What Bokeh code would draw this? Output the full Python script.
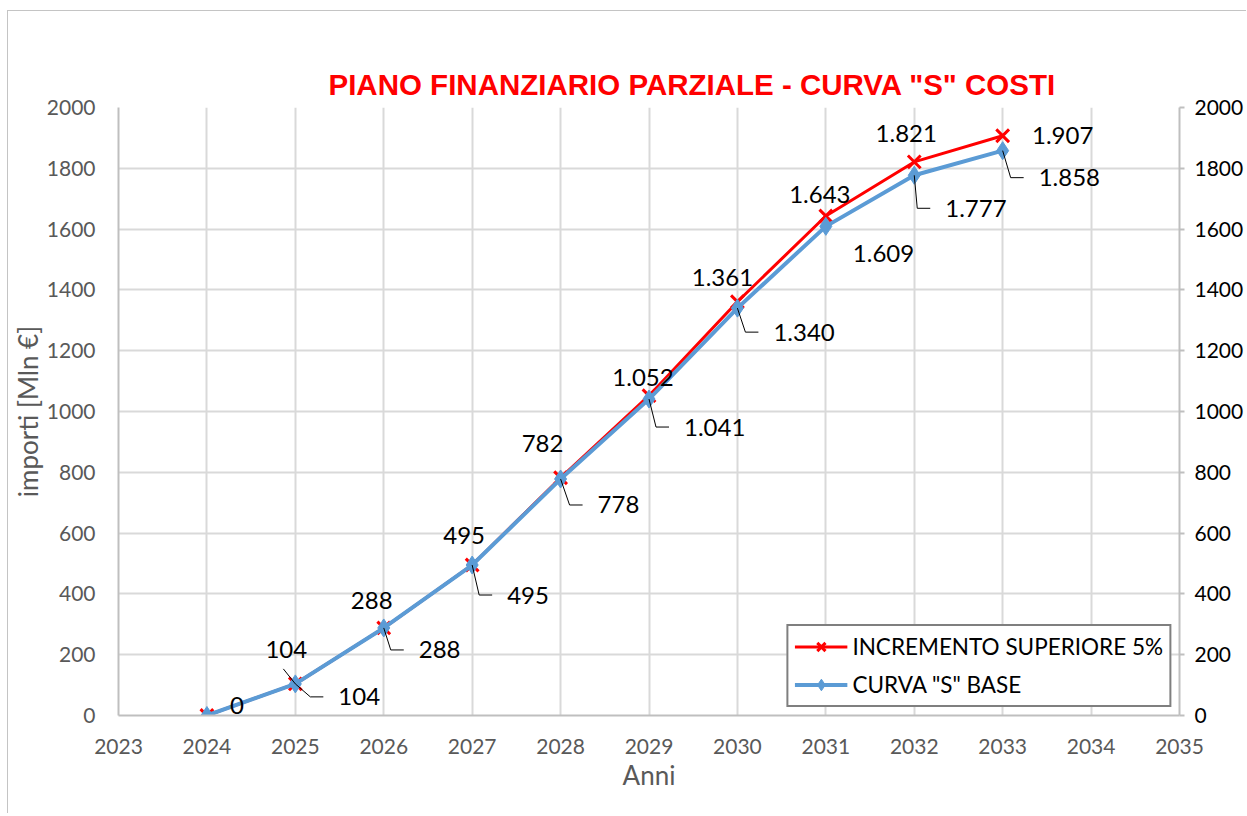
from bokeh.plotting import figure
from bokeh.models import (LinearAxis, Range1d, Legend, LegendItem, FixedTicker,
                          LabelSet, ColumnDataSource)
from bokeh.embed import file_html
from bokeh.resources import INLINE
from bokeh.core.properties import value

# ---------------- data ----------------
years = [2024, 2025, 2026, 2027, 2028, 2029, 2030, 2031, 2032, 2033]
incremento = [0, 104, 288, 495, 782, 1052, 1361, 1643, 1821, 1907]
base = [0, 104, 288, 495, 778, 1041, 1340, 1609, 1777, 1858]
x_ticks = list(range(2023, 2036))
y_ticks = list(range(0, 2001, 200))
title_text = 'PIANO FINANZIARIO PARZIALE - CURVA "S" COSTI'
series_names = ['INCREMENTO SUPERIORE 5%', 'CURVA "S" BASE']
x_title = "Anni"
y_title = "importi [Mln €]"

# ---------------- label layout (pixel offsets from the point) ----------------
red_off = [(30, -10), (-9, -34), (-12, -27), (-8, -30), (-18, -34), (-6, -18),
           (-15, -24), (-6, -22), (-8, -28), (60, 0)]
blue_off = [None, (43, 13), (35, 22), (35, 30), (37, 26), (35, 28),
            (36, 24), (27, 27), (31, 33), (36, 27)]
blue_leader = [False, True, True, True, True, True, True, False, True, True]

FONT = "Lato"
GRAY = "#595959"
RED = "#FF0000"
BLUE = "#5B9BD5"

W, H = 1239, 803
ML, MR, MT = 110, 68, 96
frame_w = W - ML - MR
frame_h = 608
MB = H - MT - frame_h

X0, X1 = 2023, 2035
Y0, Y1 = 0, 2000
px_x = (X1 - X0) / frame_w
px_y = (Y1 - Y0) / frame_h


def fmt(v):
    return f"{v:,}".replace(",", ".")


p = figure(width=W, height=H, x_range=Range1d(X0, X1), y_range=Range1d(Y0, Y1),
           output_backend="svg", toolbar_location=None,
           min_border_left=ML, min_border_right=MR, min_border_top=MT, min_border_bottom=MB)
p.styles = {"margin-left": "7px", "margin-top": "10px",
            "border-left": "1px solid #c4c4c4", "border-top": "1px solid #c4c4c4"}
p.outline_line_color = None
p.background_fill_color = "white"
p.border_fill_color = "white"

# title
p.title.text = title_text
p.title.align = "left"
p.title.offset = 210
p.title.standoff = 14
p.title.text_font = "Liberation Sans"
p.title.text_font_style = "bold"
p.title.text_font_size = "29.5px"
p.title.text_color = RED

# axes
xa = p.xaxis[0]
xa.ticker = FixedTicker(ticks=x_ticks)
xa.axis_line_color = "#bfbfbf"
xa.axis_line_width = 2
xa.major_tick_out = 0
xa.major_tick_in = 0
xa.major_tick_line_color = None
xa.minor_tick_line_color = None
xa.major_label_text_font = FONT
xa.major_label_text_font_size = "21px"
xa.major_label_text_color = GRAY
xa.major_label_standoff = 23
xa.axis_label = x_title
xa.axis_label_text_font = FONT
xa.axis_label_text_font_size = "26px"
xa.axis_label_text_font_style = "normal"
xa.axis_label_text_color = GRAY
xa.axis_label_standoff = 2

ya = p.yaxis[0]
ya.ticker = FixedTicker(ticks=y_ticks)
ya.axis_line_color = "#bfbfbf"
ya.axis_line_width = 2
ya.major_tick_out = 0
ya.major_tick_in = 0
ya.major_tick_line_color = None
ya.minor_tick_line_color = None
ya.major_label_text_font = FONT
ya.major_label_text_font_size = "21px"
ya.major_label_text_color = GRAY
ya.major_label_standoff = 23
ya.axis_label = y_title
ya.axis_label_text_font = FONT
ya.axis_label_text_font_size = "26px"
ya.axis_label_text_font_style = "normal"
ya.axis_label_text_color = GRAY
ya.axis_label_standoff = 0

p.extra_y_ranges = {"right": Range1d(Y0, Y1)}
ra = LinearAxis(y_range_name="right", ticker=FixedTicker(ticks=y_ticks))
ra.axis_line_color = "#bfbfbf"
ra.axis_line_width = 2
ra.major_tick_line_color = "#bfbfbf"
ra.major_tick_line_width = 2
ra.major_tick_out = 5
ra.major_tick_in = 0
ra.minor_tick_line_color = None
ra.major_label_text_font = FONT
ra.major_label_text_font_size = "21px"
ra.major_label_text_color = "black"
ra.major_label_standoff = 10
p.add_layout(ra, "right")

for g in (p.xgrid[0], p.ygrid[0]):
    g.grid_line_color = "#d9d9d9"
    g.grid_line_width = 2
p.xgrid[0].ticker = FixedTicker(ticks=x_ticks)
p.ygrid[0].ticker = FixedTicker(ticks=y_ticks)

# series
r_line = p.line(years, incremento, line_color=RED, line_width=3)
r_mark = p.scatter(years, incremento, marker="x", size=18, line_color=RED, line_width=3)
b_line = p.line(years, base, line_color=BLUE, line_width=4)
b_mark = p.scatter(years, base, marker="diamond", size=18, fill_color=BLUE, line_color=BLUE)

# leader lines
lx, ly = [], []
for i, (xv, yv) in enumerate(zip(years, base)):
    if blue_off[i] is not None and blue_leader[i]:
        dx, dy = blue_off[i]
        lx.append([xv, xv + (dx - 28) * px_x, xv + (dx - 15) * px_x])
        ly.append([yv, yv - dy * px_y, yv - dy * px_y])
lx.append([years[1] - 12 * px_x, years[1]])
ly.append([incremento[1] + 15 * px_y, incremento[1]])
p.multi_line(lx, ly, line_color="black", line_width=1)

# data labels
red_src = ColumnDataSource(dict(
    x=[xv + red_off[i][0] * px_x for i, xv in enumerate(years)],
    y=[yv - red_off[i][1] * px_y for i, yv in enumerate(incremento)],
    t=[fmt(v) for v in incremento]))
p.add_layout(LabelSet(x="x", y="y", text="t", source=red_src, text_align="center",
                      text_baseline="middle", text_font=value(FONT), text_font_size="24px",
                      text_color="black"))

bx, by, bt = [], [], []
for i, (xv, yv) in enumerate(zip(years, base)):
    if blue_off[i] is None:
        continue
    dx, dy = blue_off[i]
    bx.append(xv + dx * px_x)
    by.append(yv - dy * px_y)
    bt.append(fmt(yv))
blue_src = ColumnDataSource(dict(x=bx, y=by, t=bt))
p.add_layout(LabelSet(x="x", y="y", text="t", source=blue_src, text_align="left",
                      text_baseline="middle", text_font=value(FONT), text_font_size="24px",
                      text_color="black"))

# legend
legend = Legend(items=[LegendItem(label=series_names[0], renderers=[r_line, r_mark]),
                       LegendItem(label=series_names[1], renderers=[b_line, b_mark])],
                location="bottom_right", margin=8, padding=6, spacing=9,
                label_text_font=FONT, label_text_font_size="22.5px", label_text_color="black",
                label_height=29, glyph_height=29, glyph_width=53, label_standoff=5,
                border_line_color="black", border_line_width=2,
                background_fill_color="white", background_fill_alpha=1)
p.add_layout(legend)

open("out.html", "w").write(file_html(p, INLINE))
